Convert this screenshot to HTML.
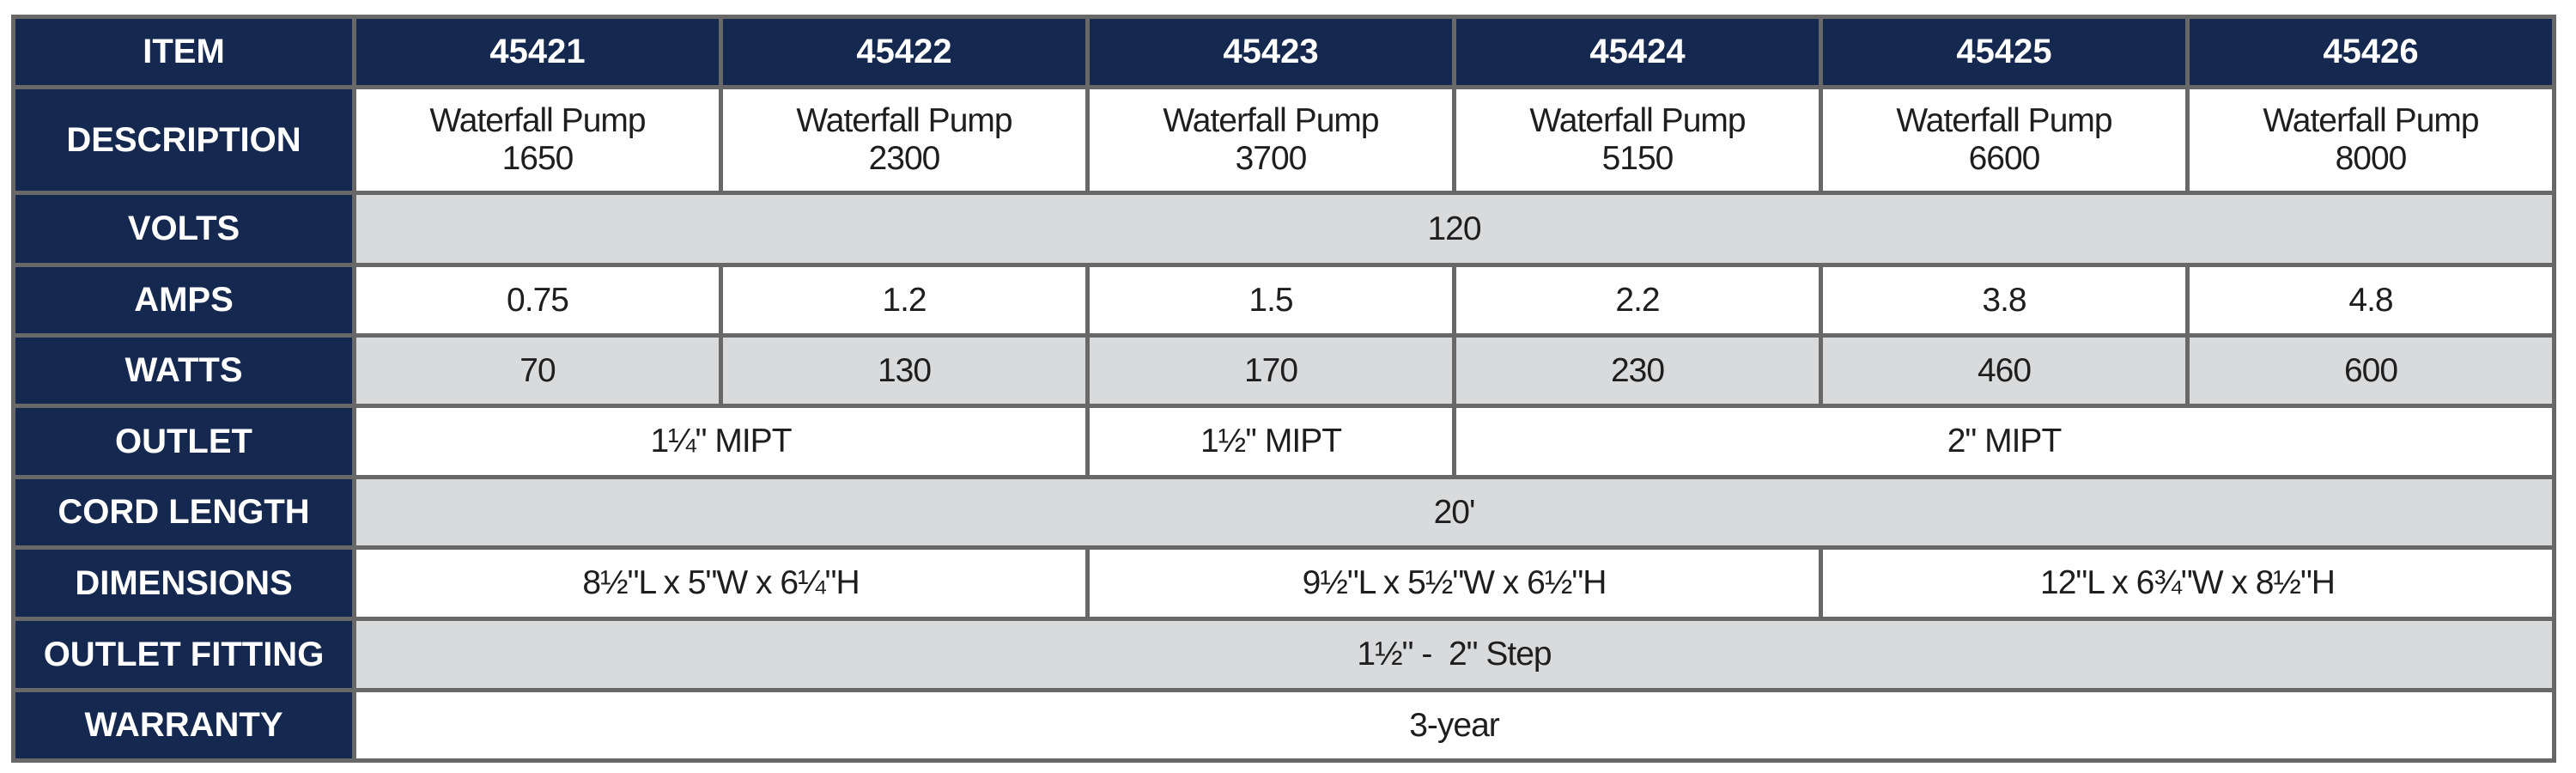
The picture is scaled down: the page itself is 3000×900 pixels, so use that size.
<!DOCTYPE html>
<html><head><meta charset="utf-8"><style>
html,body{margin:0;padding:0;background:#fff;width:3000px;height:900px;overflow:hidden}
table{position:absolute;left:13px;top:17px;width:2959px;height:866px;border-collapse:collapse;table-layout:fixed;font-family:"Liberation Sans",sans-serif}
td{border:5px solid #686868;text-align:center;vertical-align:middle;padding:0;font-size:39px;color:#1e1e1e;letter-spacing:-1px}
td.h{background:#15284f;color:#fff;font-weight:bold;font-size:40px;letter-spacing:0}
tr.g td{background:#d9dadc}
tr.g td.h{background:#15284f}
td.n{background:#15284f;color:#fff;font-weight:bold;font-size:40px;letter-spacing:0}
</style></head><body>
<table>
<colgroup><col style="width:397px"><col style="width:427px"><col style="width:427px"><col style="width:427px"><col style="width:427px"><col style="width:427px"><col style="width:427px"></colgroup>
<tr style="height:82px"><td class="h">ITEM</td><td class="n">45421</td><td class="n">45422</td><td class="n">45423</td><td class="n">45424</td><td class="n">45425</td><td class="n">45426</td></tr>
<tr style="height:123px"><td class="h">DESCRIPTION</td><td>Waterfall Pump<br>1650</td><td>Waterfall Pump<br>2300</td><td>Waterfall Pump<br>3700</td><td>Waterfall Pump<br>5150</td><td>Waterfall Pump<br>6600</td><td>Waterfall Pump<br>8000</td></tr>
<tr class="g" style="height:84px"><td class="h">VOLTS</td><td colspan="6">120</td></tr>
<tr style="height:82px"><td class="h">AMPS</td><td>0.75</td><td>1.2</td><td>1.5</td><td>2.2</td><td>3.8</td><td>4.8</td></tr>
<tr class="g" style="height:82px"><td class="h">WATTS</td><td>70</td><td>130</td><td>170</td><td>230</td><td>460</td><td>600</td></tr>
<tr style="height:83px"><td class="h">OUTLET</td><td colspan="2">1¼" MIPT</td><td>1½'' MIPT</td><td colspan="3">2" MIPT</td></tr>
<tr class="g" style="height:82px"><td class="h">CORD LENGTH</td><td colspan="6">20'</td></tr>
<tr style="height:83px"><td class="h">DIMENSIONS</td><td colspan="2">8½"L x 5"W x 6¼"H</td><td colspan="2">9½"L x 5½"W x 6½"H</td><td colspan="2">12"L x 6¾"W x 8½"H</td></tr>
<tr class="g" style="height:83px"><td class="h">OUTLET FITTING</td><td colspan="6">1½" -&nbsp; 2" Step</td></tr>
<tr style="height:82px"><td class="h">WARRANTY</td><td colspan="6">3-year</td></tr>
</table>
</body></html>
